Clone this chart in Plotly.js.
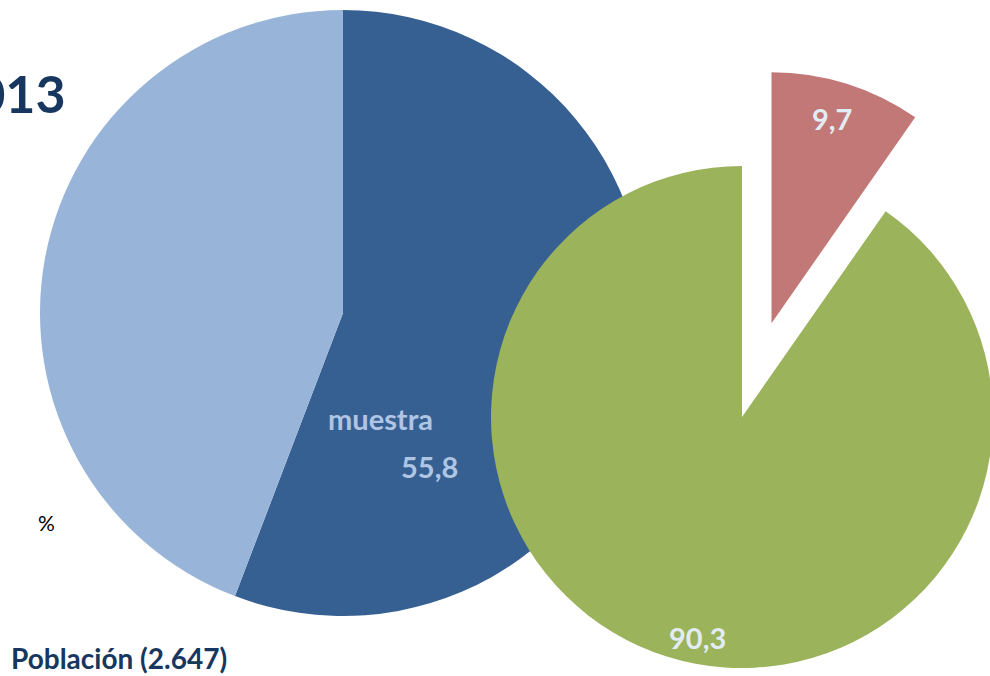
<!DOCTYPE html>
<html>
<head>
<meta charset="utf-8">
<script src="https://cdn.plot.ly/plotly-3.0.1.min.js"></script>
<style>
  html, body { margin:0; padding:0; width:990px; height:676px; overflow:hidden; background:#fff; }
  #chart { position:absolute; left:-40px; top:0; width:1140px; height:780px; }
</style>
</head>
<body>
<div id="chart"></div>
<script>
// ---- data ----
var titleText = "2013";
var subtitleText = "Población (2.647)";
var unitText = "%";
var leftLabels = ["muestra", "resto"];
var leftValues = [55.8, 44.2];
var rightLabels = ["A", "B"];
var rightValues = [9.7, 90.3];

function fmt(v) { return v.toFixed(1).replace(".", ","); }

// ---- layout geometry (pixels in the page) ----
var OFFX = 40, W = 1140, H = 780;
function dom(cx, cy, half) {
  var x0 = cx + OFFX - half, x1 = cx + OFFX + half;
  var yt = cy - half, yb = cy + half;
  return { x: [x0 / W, x1 / W], y: [1 - yb / H, 1 - yt / H] };
}
function px(sx) { return (sx + OFFX) / W; }
function py(sy) { return 1 - sy / H; }

var rightPull = 0.392;

var traces = [
  {
    type: "pie",
    labels: leftLabels,
    values: leftValues,
    sort: false,
    direction: "clockwise",
    rotation: 0,
    marker: { colors: ["#376092", "#98B5D9"], line: { width: 0 } },
    textinfo: "none",
    hoverinfo: "skip",
    showlegend: false,
    domain: dom(343, 313, 303)
  },
  {
    type: "pie",
    labels: rightLabels,
    values: rightValues,
    sort: false,
    direction: "clockwise",
    rotation: 0,
    pull: [rightPull, 0],
    marker: { colors: ["#C17876", "#9BB35A"], line: { width: 0 } },
    textinfo: "none",
    hoverinfo: "skip",
    showlegend: false,
    domain: dom(742, 417, 251 * (1 + rightPull))
  }
];

var F = "Lato, 'Open Sans', sans-serif";
function ann(text, sx, sy, size, color, xanchor, weight) {
  return {
    text: text, x: px(sx), y: py(sy), xref: "paper", yref: "paper",
    xanchor: xanchor || "center", yanchor: "middle", showarrow: false,
    font: { family: F, size: size, color: color, weight: weight || 700 }
  };
}

var layout = {
  width: W, height: H,
  margin: { l: 0, r: 0, t: 0, b: 0 },
  paper_bgcolor: "#ffffff",
  showlegend: false,
  annotations: [
    ann(titleText, 68, 93, 52, "#17375E", "right"),
    ann(subtitleText, 9, 658, 28, "#17375E", "left"),
    ann(unitText, 46, 522, 21, "#000000", "center", 400),
    ann(leftLabels[0], 380, 418, 29, "#AFC5E3"),
    ann(fmt(leftValues[0]), 429, 466, 29, "#AFC5E3"),
    ann(fmt(rightValues[0]), 832, 118, 29, "#E3ECF4"),
    ann(fmt(rightValues[1]), 697, 637, 29, "#E3ECF4")
  ]
};

Plotly.newPlot("chart", traces, layout, { staticPlot: true, displayModeBar: false });
</script>
</body>
</html>
